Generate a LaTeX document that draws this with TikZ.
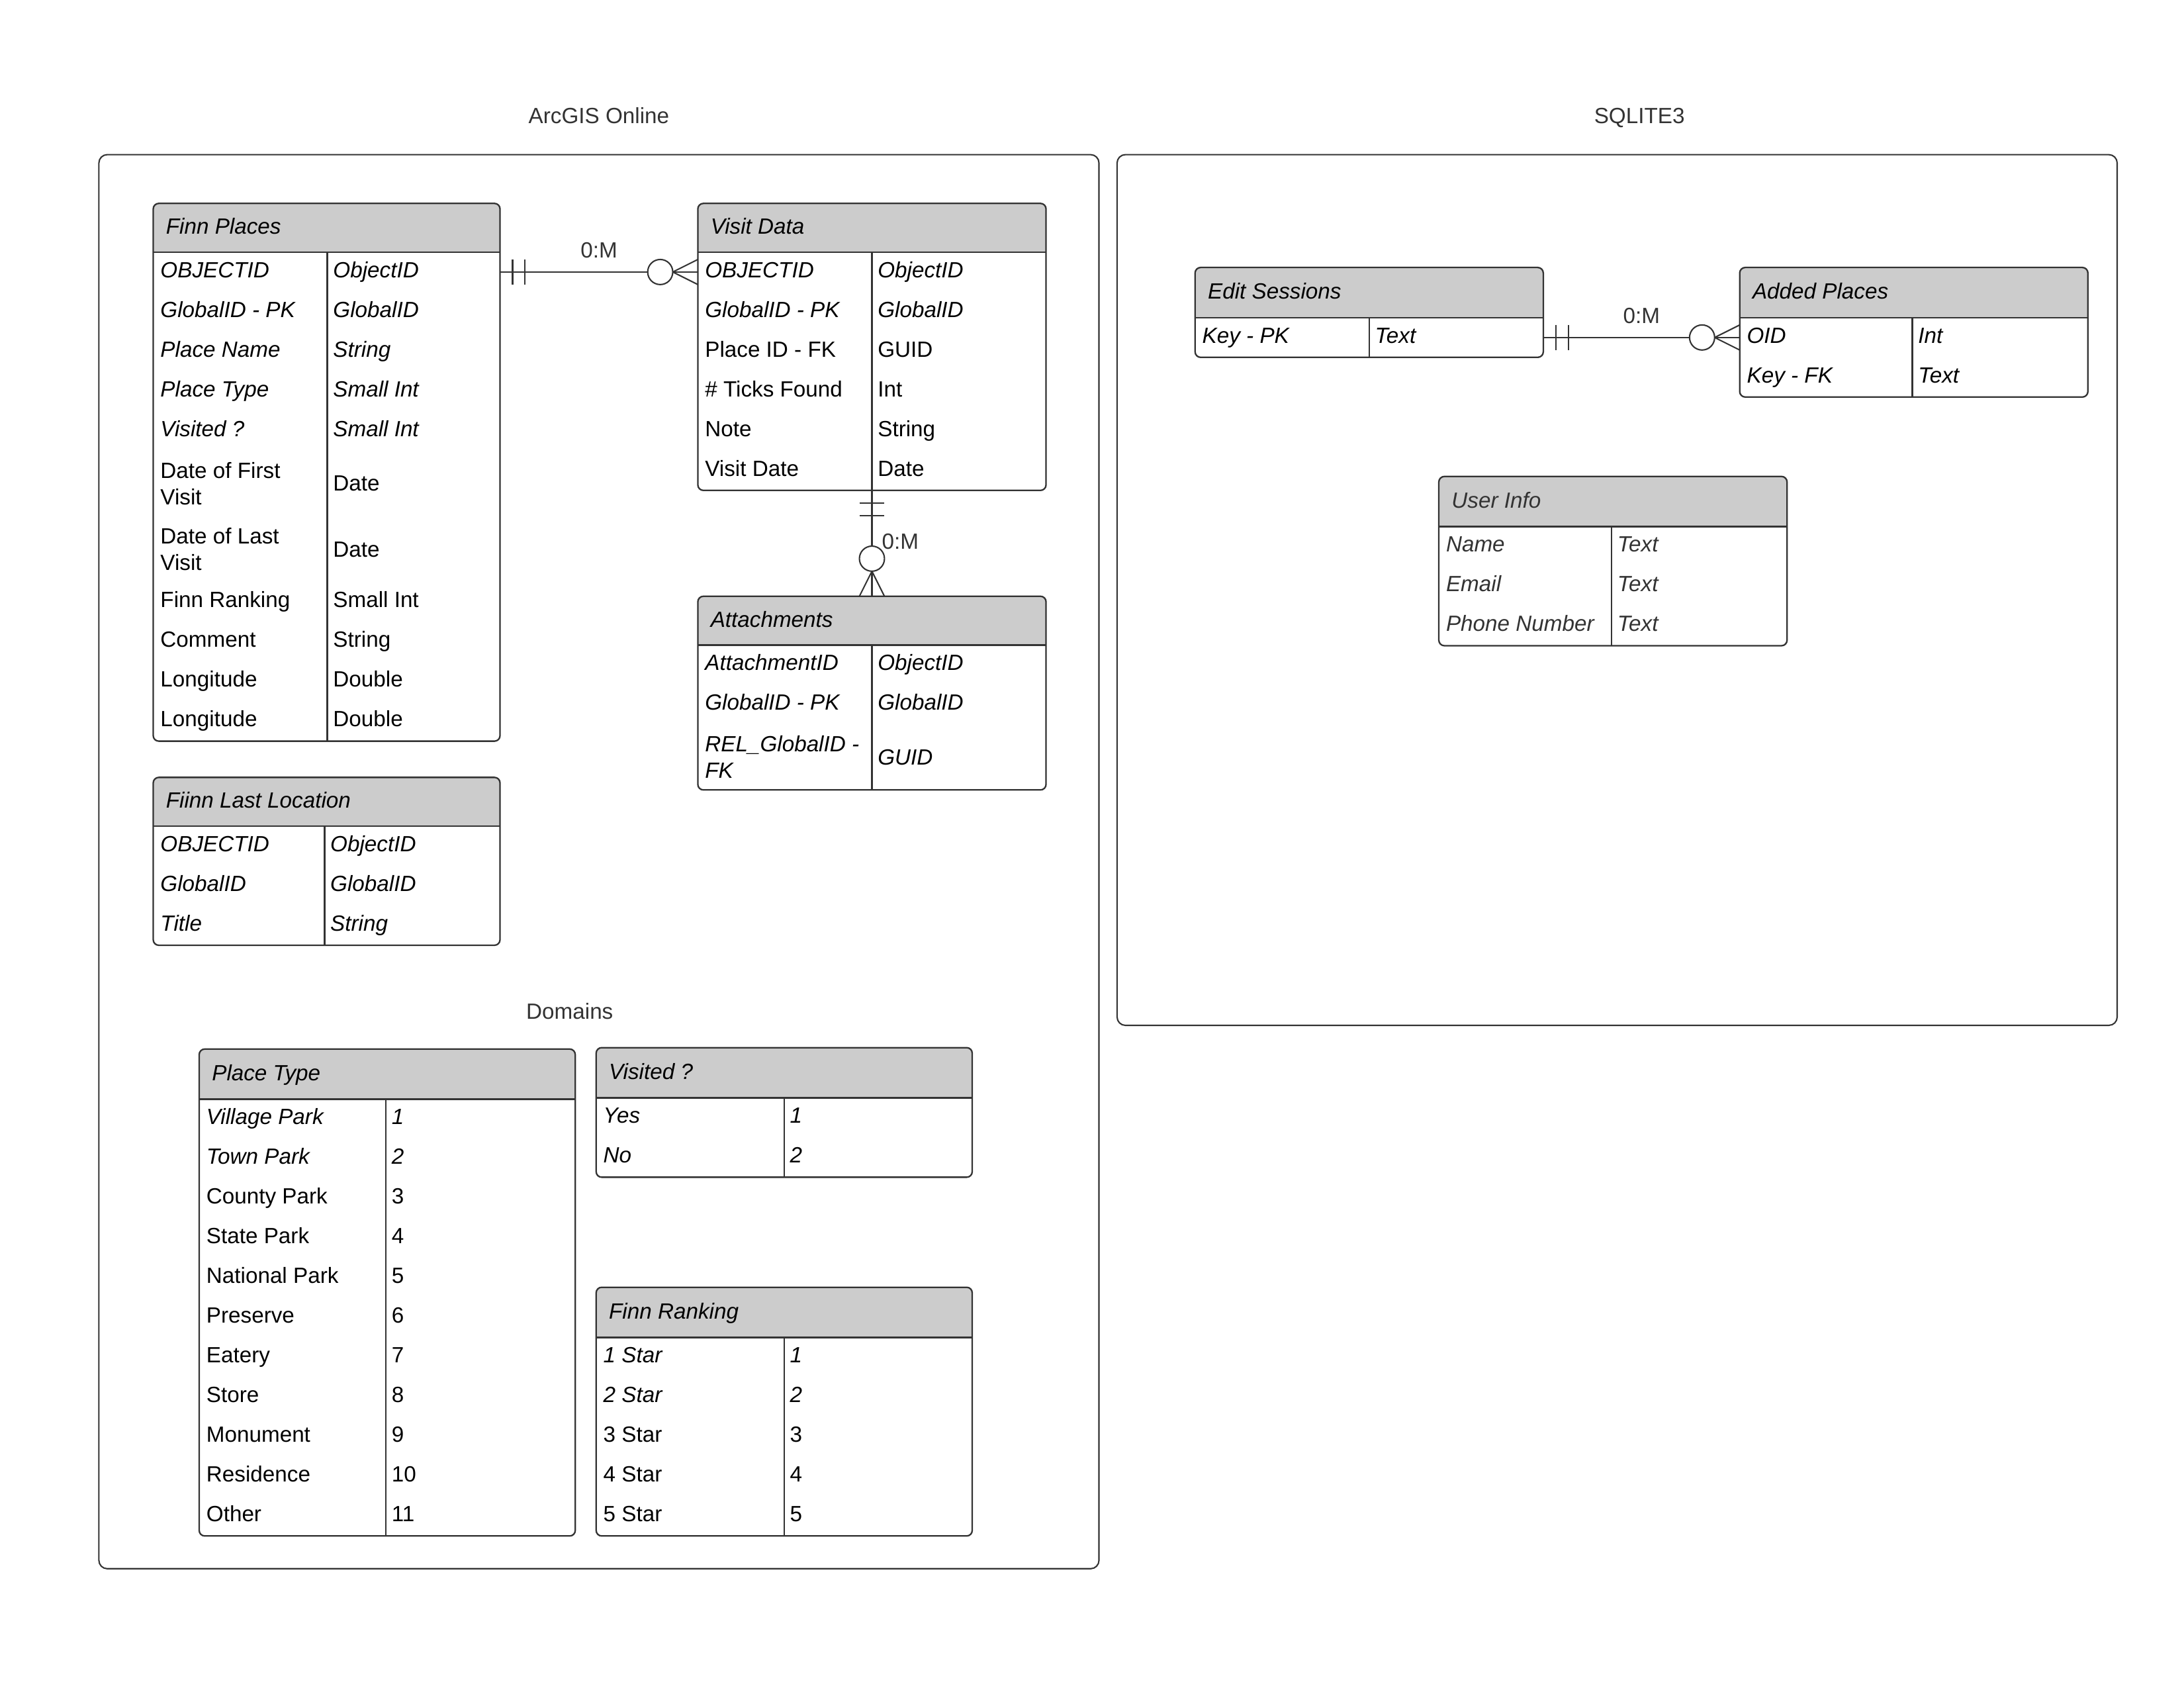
\documentclass[tikz,border=0pt]{standalone}
\usepackage{fontspec}
\setmainfont{Liberation Sans}
\usetikzlibrary{positioning}
\definecolor{hdrgray}{HTML}{CCCCCC}
\definecolor{linegray}{HTML}{333333}
\definecolor{txtgray}{HTML}{333333}
\begin{document}
\begin{tikzpicture}[x=1pt,y=-1pt,
  tline/.style={draw=linegray,line width=1.1pt},
  rel/.style={draw=linegray,line width=1pt},
  tbl/.style={fill=white,inner sep=0pt,outer sep=0pt},
  cont/.style={draw=linegray,line width=1pt,rounded corners=6pt,inner sep=0pt,outer sep=0pt},
  cell/.style={inner sep=0pt,align=left,anchor=base west},
  itl/.style={font=\itshape},
  upr/.style={},
  two/.style={anchor=west,yshift=4pt},
  itwo/.style={font=\itshape,anchor=west,yshift=4pt},
  uinf/.style={font=\itshape,text=txtgray},
  lbl/.style={inner sep=0pt,text=txtgray}]
\fontsize{15.8}{19}\selectfont
\useasboundingbox (0,0) rectangle (1568,1211.6);
\node[cont,minimum width=718pt,minimum height=1015pt,anchor=north west] (arcgis) at (71,111) {};
\node[cont,minimum width=718pt,minimum height=625pt,anchor=north west] (sqlite) at (802,111) {};
\node[lbl,anchor=base] (arcgis-t) at ([yshift=22.5pt]arcgis.north) {ArcGIS Online};
\node[lbl,anchor=base] (sqlite-t) at ([xshift=16pt,yshift=22.5pt]sqlite.north) {SQLITE3};
\node[lbl,anchor=base] (domains) at (409,731.6) {Domains};
\foreach \t/\xa/\ya/\xb/\yb/\hb/\dv/\ts/\ti in {
  places/110/146/359/532/181/235/itl/Finn Places,
  visits/501/146/751/352/181/626/itl/Visit Data,
  attach/501/428/751/567/463/626/itl/Attachments,
  lastloc/110/558/359/678.5/593/233/itl/Fiinn Last Location,
  ptype/143/753/413/1102.5/789/277/itl/Place Type,
  visited/428/752/698/845/788/563/itl/Visited ?,
  ranking/428/924/698/1102.5/960/563/itl/Finn Ranking,
  sessions/858/192/1108/256.5/228/983/itl/Edit Sessions,
  added/1249/192/1499/285/228/1373/itl/Added Places,
  userinfo/1033/342/1283/463.5/378/1157/uinf/User Info}
{
  \node[tbl,minimum width={(\xb-\xa)*1pt},minimum height={(\yb-\ya)*1pt},anchor=north west] (\t) at (\xa,\ya) {};
  \coordinate (\t-d) at (\dv,\hb);
  \begin{scope}
    \clip[rounded corners=4pt] (\t.north west) rectangle (\t.south east);
    \fill[hdrgray] (\t.north west) rectangle (\xb,\hb);
  \end{scope}
  \draw[tline] (\xa,\hb) -- (\xb,\hb) (\t-d) -- (\t-d |- \t.south);
  \draw[tline,rounded corners=4pt] (\t.north west) rectangle (\t.south east);
  \node[cell,\ts] (\t-t) at (\xa+9,{(\ya+\hb)/2+4.5}) {\ti};
}
\foreach \t/\k/\y/\s/\a/\b in {
  places/1/195.25/itl/OBJECTID/ObjectID,
  places/2/223.75/itl/GlobalID - PK/GlobalID,
  places/3/252.25/itl/Place Name/String,
  places/4/280.75/itl/Place Type/Small Int,
  places/5/309.25/itl/Visited ?/Small Int,
  places/6/347.1/two/Date of First\\Visit/Date,
  places/7/394.4/two/Date of Last\\Visit/Date,
  places/8/431.75/upr/Finn Ranking/Small Int,
  places/9/460.25/upr/Comment/String,
  places/10/488.75/upr/Longitude/Double,
  places/11/517.25/upr/Longitude/Double,
  visits/1/195.25/itl/OBJECTID/ObjectID,
  visits/2/223.75/itl/GlobalID - PK/GlobalID,
  visits/3/252.25/upr/Place ID - FK/GUID,
  visits/4/280.75/upr/\# Ticks Found/Int,
  visits/5/309.25/upr/Note/String,
  visits/6/337.75/upr/Visit Date/Date,
  attach/1/477.25/itl/AttachmentID/ObjectID,
  attach/2/505.75/itl/GlobalID - PK/GlobalID,
  attach/3/543.5/itwo/REL\_GlobalID -\\FK/GUID,
  lastloc/1/607.25/itl/OBJECTID/ObjectID,
  lastloc/2/635.75/itl/GlobalID/GlobalID,
  lastloc/3/664.25/itl/Title/String,
  ptype/1/803.25/itl/Village Park/1,
  ptype/2/831.75/itl/Town Park/2,
  ptype/3/860.25/upr/County Park/3,
  ptype/4/888.75/upr/State Park/4,
  ptype/5/917.25/upr/National Park/5,
  ptype/6/945.75/upr/Preserve/6,
  ptype/7/974.25/upr/Eatery/7,
  ptype/8/1002.75/upr/Store/8,
  ptype/9/1031.25/upr/Monument/9,
  ptype/10/1059.75/upr/Residence/10,
  ptype/11/1088.25/upr/Other/11,
  visited/1/802.25/itl/Yes/1,
  visited/2/830.75/itl/No/2,
  ranking/1/974.25/itl/1 Star/1,
  ranking/2/1002.75/itl/2 Star/2,
  ranking/3/1031.25/upr/3 Star/3,
  ranking/4/1059.75/upr/4 Star/4,
  ranking/5/1088.25/upr/5 Star/5,
  sessions/1/242.25/itl/Key - PK/Text,
  added/1/242.25/itl/OID/Int,
  added/2/270.75/itl/Key - FK/Text,
  userinfo/1/392.25/uinf/Name/Text,
  userinfo/2/420.75/uinf/Email/Text,
  userinfo/3/449.25/uinf/Phone Number/Text}
{
  \node[cell,\s,xshift=5pt] (\t\k a) at (\t.west |- 0,\y+4) {\a};
  \node[cell,\s,xshift=4pt] (\t\k b) at (\t-d |- 0,\y+4) {\b};
}
\coordinate (c1a) at (places.east |- 0,195.25);
\coordinate (c1b) at (visits.west |- c1a);
\draw[rel] (c1a) -- node[lbl,anchor=base,yshift=10pt] (m1) {0:M} (c1b);
\draw[rel] ([xshift=9pt]c1a) +(0,-9) -- +(0,9) ([xshift=18pt]c1a) +(0,-9) -- +(0,9);
\draw[rel] ([xshift=-18pt]c1b) -- ++(18,-9) ([xshift=-18pt]c1b) -- ++(18,9);
\draw[rel,fill=white] ([xshift=-27pt]c1b) circle (9pt);
\coordinate (c2a) at (visits.south);
\coordinate (c2b) at (attach.north);
\draw[rel] (c2a) -- (c2b);
\draw[rel] ([yshift=-9pt]c2a) +(-9,0) -- +(9,0) ([yshift=-18pt]c2a) +(-9,0) -- +(9,0);
\draw[rel] ([yshift=18pt]c2b) -- ++(-9,18) ([yshift=18pt]c2b) -- ++(9,18);
\draw[rel,fill=white] ([yshift=27pt]c2b) circle (9pt);
\node[lbl,anchor=base west] (m2) at ([xshift=7pt,yshift=34pt]c2b) {0:M};
\coordinate (c3a) at (sessions.east |- 0,242.25);
\coordinate (c3b) at (added.west |- c3a);
\draw[rel] (c3a) -- node[lbl,anchor=base,yshift=10pt] (m3) {0:M} (c3b);
\draw[rel] ([xshift=9pt]c3a) +(0,-9) -- +(0,9) ([xshift=18pt]c3a) +(0,-9) -- +(0,9);
\draw[rel] ([xshift=-18pt]c3b) -- ++(18,-9) ([xshift=-18pt]c3b) -- ++(18,9);
\draw[rel,fill=white] ([xshift=-27pt]c3b) circle (9pt);
\end{tikzpicture}
\end{document}
